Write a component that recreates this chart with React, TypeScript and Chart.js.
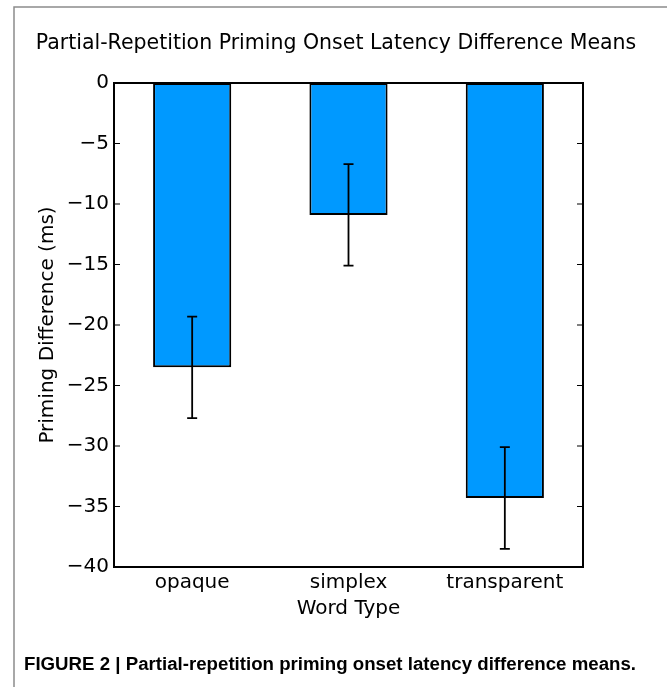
import React, { useEffect, useRef } from 'react';
import { Chart, registerables } from 'chart.js';

Chart.register(...registerables);

const categories = ['opaque', 'simplex', 'transparent'];
const means = [-23.5, -10.9, -34.3];
const errors = [4.2, 4.2, 4.2];
const yMin = -40;
const yMax = 0;
const yStep = 5;
const titleText = 'Partial-Repetition Priming Onset Latency Difference Means';
const xTitle = 'Word Type';
const yTitle = 'Priming Difference (ms)';
const captionText = 'FIGURE 2 | Partial-repetition priming onset latency difference means.';

const W = 667;
const H = 687;
const FONT = "'DejaVu Sans', 'Bitstream Vera Sans', sans-serif";
const BAR_COLOR = '#0099ff';

const decor = {
  id: 'decor',
  beforeDraw(chart: any) {
    const ctx = chart.ctx;
    ctx.save();
    ctx.fillStyle = '#ffffff';
    ctx.fillRect(0, 0, W, H);
    // figure border (top and left)
    ctx.strokeStyle = '#8c8c8c';
    ctx.lineWidth = 1.5;
    ctx.beginPath();
    ctx.moveTo(14, H);
    ctx.lineTo(14, 7);
    ctx.lineTo(W, 7);
    ctx.stroke();
    // title
    ctx.fillStyle = '#000';
    ctx.font = `20.5px ${FONT}`;
    ctx.textAlign = 'center';
    ctx.textBaseline = 'middle';
    ctx.fillText(titleText, 336, 44);
    // caption (condensed bold, fitted to width)
    ctx.font = "bold 17.5px 'Liberation Sans', Arial, sans-serif";
    ctx.textAlign = 'left';
    const w = ctx.measureText(captionText).width;
    const target = 612;
    ctx.translate(24, 665);
    ctx.scale(target / w, 1);
    ctx.fillText(captionText, 0, 0);
    ctx.restore();
  },
  afterDatasetsDraw(chart: any) {
    const ctx = chart.ctx;
    const xs = chart.scales.x;
    const ys = chart.scales.y;
    const area = chart.chartArea;
    ctx.save();
    // error bars
    ctx.strokeStyle = '#000';
    ctx.lineWidth = 1.8;
    means.forEach((m, i) => {
      const x = xs.getPixelForValue(i);
      const yTop = ys.getPixelForValue(m + errors[i]);
      const yBot = ys.getPixelForValue(m - errors[i]);
      ctx.beginPath();
      ctx.moveTo(x, yTop);
      ctx.lineTo(x, yBot);
      ctx.moveTo(x - 5, yTop);
      ctx.lineTo(x + 5, yTop);
      ctx.moveTo(x - 5, yBot);
      ctx.lineTo(x + 5, yBot);
      ctx.stroke();
    });
    // frame
    ctx.lineWidth = 2;
    ctx.strokeRect(area.left, area.top, area.right - area.left, area.bottom - area.top);
    // inner ticks on left and right
    ctx.lineWidth = 1.2;
    ys.ticks.forEach((t: any) => {
      const y = ys.getPixelForValue(t.value);
      ctx.beginPath();
      ctx.moveTo(area.left, y);
      ctx.lineTo(area.left + 6, y);
      ctx.moveTo(area.right, y);
      ctx.lineTo(area.right - 6, y);
      ctx.stroke();
    });
    ctx.restore();
  },
};

export default function App() {
  const canvasRef = useRef<HTMLCanvasElement | null>(null);

  useEffect(() => {
    const canvas = canvasRef.current;
    if (!canvas) return;
    const chart = new Chart(canvas, {
      type: 'bar',
      data: {
        labels: categories,
        datasets: [
          {
            data: means,
            backgroundColor: BAR_COLOR,
            borderColor: '#000',
            borderWidth: 2,
            borderSkipped: false,
            barPercentage: 0.5,
            categoryPercentage: 1.0,
          },
        ],
      },
      options: {
        responsive: false,
        animation: false,
        devicePixelRatio: 1,
        layout: { padding: { left: 0, top: 83, right: 84, bottom: 0 } },
        plugins: {
          legend: { display: false },
          tooltip: { enabled: false },
          title: { display: false },
        },
        scales: {
          x: {
            type: 'category',
            offset: true,
            grid: { display: false, drawTicks: false },
            border: { display: false },
            ticks: {
              color: '#000',
              font: { family: FONT, size: 20 },
              padding: 4,
              maxRotation: 0,
            },
            title: {
              display: true,
              text: xTitle,
              color: '#000',
              font: { family: FONT, size: 20 },
              padding: { top: 0, bottom: 66 },
            },
            afterFit(scale: any) {
              scale.height = H - 567;
            },
          },
          y: {
            min: yMin,
            max: yMax,
            grid: { display: false, drawTicks: false },
            border: { display: false },
            ticks: {
              stepSize: yStep,
              color: '#000',
              font: { family: FONT, size: 20 },
              padding: 5,
              callback: (v: any) => (Number(v) < 0 ? '\u2212' + Math.abs(Number(v)) : String(v)),
            },
            title: {
              display: true,
              text: yTitle,
              color: '#000',
              font: { family: FONT, size: 20 },
              padding: { top: 36, bottom: 0 },
            },
            afterFit(scale: any) {
              scale.width = 114;
            },
          },
        },
      },
      plugins: [decor],
    } as any);
    return () => chart.destroy();
  }, []);

  return (
    <div style={{ position: 'absolute', left: 0, top: 0, width: W, height: H, background: '#fff' }}>
      <canvas ref={canvasRef} width={W} height={H} style={{ width: W, height: H, display: 'block' }} />
    </div>
  );
}
